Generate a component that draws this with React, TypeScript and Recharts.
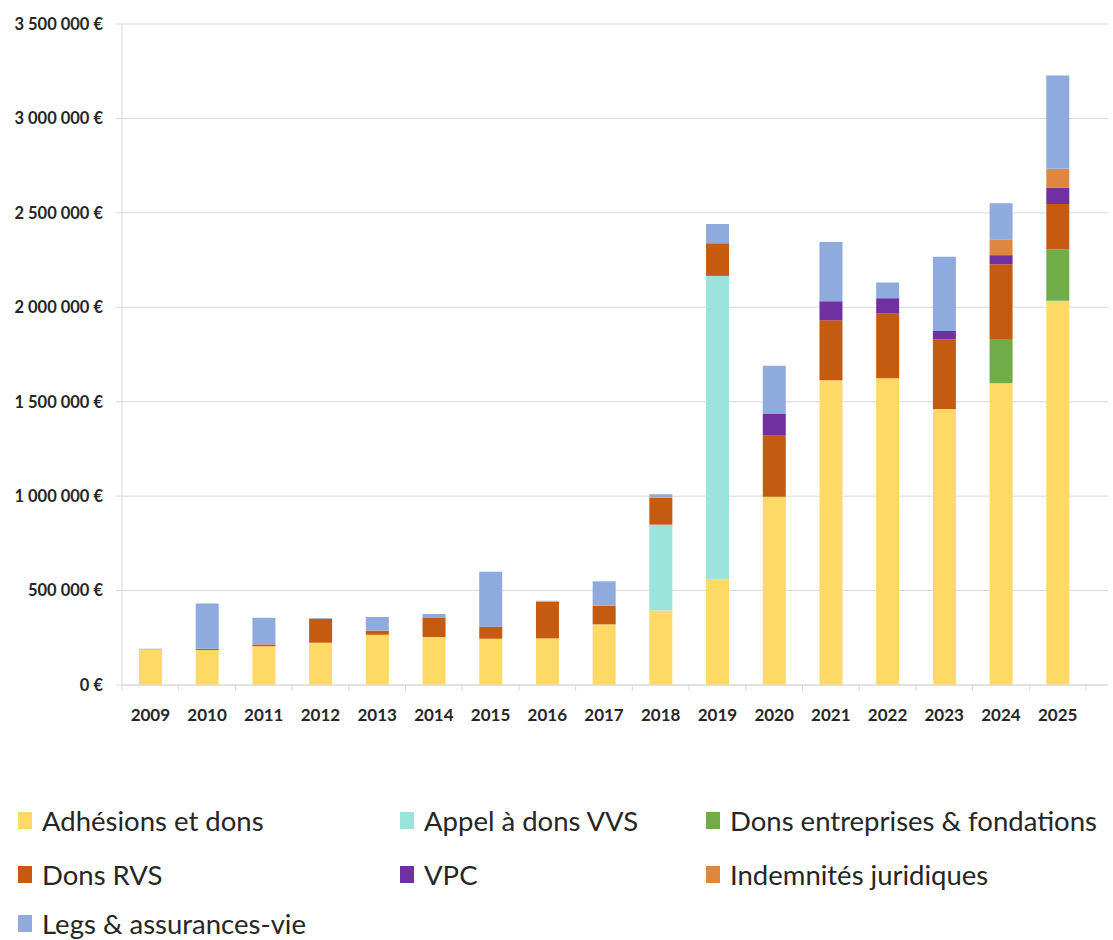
import React from 'react';
import { BarChart, Bar, XAxis, YAxis, CartesianGrid, Legend } from 'recharts';

const years = ['2009', '2010', '2011', '2012', '2013', '2014', '2015', '2016', '2017', '2018', '2019', '2020', '2021', '2022', '2023', '2024', '2025'];

// values in euros
const adhesionsDons = [188000, 185000, 205000, 224000, 266000, 254000, 245000, 247000, 321000, 394000, 560000, 997000, 1614000, 1624000, 1462000, 1598000, 2034000];
const appelDonsVVS = [0, 0, 0, 0, 0, 0, 0, 0, 0, 455000, 1606000, 0, 0, 0, 0, 0, 0];
const donsEntreprises = [0, 0, 0, 0, 0, 0, 0, 0, 0, 0, 0, 0, 0, 0, 0, 234000, 273000];
const donsRVS = [0, 7000, 10000, 127000, 22000, 104000, 64000, 194000, 99000, 143000, 173000, 323000, 317000, 344000, 369000, 396000, 240000];
const vpc = [0, 0, 0, 0, 0, 0, 0, 0, 0, 0, 0, 115000, 101000, 80000, 44000, 48000, 85000];
const indemnites = [0, 0, 0, 0, 0, 0, 0, 0, 0, 0, 0, 0, 0, 0, 0, 84000, 101000];
const legsAssurances = [4000, 240000, 141000, 3000, 72000, 18000, 291000, 5000, 129000, 18000, 102000, 256000, 314000, 83000, 393000, 191000, 494000];

const yTicks = [0, 500000, 1000000, 1500000, 2000000, 2500000, 3000000, 3500000];

const series = [
  { key: 'adhesions', name: 'Adhésions et dons', color: '#FFD966', values: adhesionsDons },
  { key: 'appelVVS', name: 'Appel à dons VVS', color: '#9BE3DB', values: appelDonsVVS },
  { key: 'entreprises', name: 'Dons entreprises & fondations', color: '#70AD47', values: donsEntreprises },
  { key: 'donsRVS', name: 'Dons RVS', color: '#C55A11', values: donsRVS },
  { key: 'vpc', name: 'VPC', color: '#7030A0', values: vpc },
  { key: 'indemnites', name: 'Indemnités juridiques', color: '#DF8640', values: indemnites },
  { key: 'legs', name: 'Legs & assurances-vie', color: '#8FAADC', values: legsAssurances },
];

const data = years.map((year, i) => {
  const row: any = { year };
  series.forEach(s => { row[s.key] = s.values[i]; });
  return row;
});

const formatEuro = (v: number) => String(v).replace(/\B(?=(\d{3})+(?!\d))/g, ' ') + ' €';

const FONT = 'Lato, "Open Sans", sans-serif';
const GRID = '#d9d9d9';
const TEXT = '#262626';

// category step on the x axis: plot from 122 to 1108, 22px padding on the right
const STEP = (1108 - 22 - 122) / years.length;

const YearTick = (props: any) => {
  const { x, y, payload, index } = props;
  const half = STEP / 2;
  return (
    <g>
      <line x1={x - half} x2={x - half} y1={y} y2={y + 6} stroke={GRID} />
      {index === years.length - 1 && <line x1={x + half} x2={x + half} y1={y} y2={y + 6} stroke={GRID} />}
      <text x={x} y={y + 36} textAnchor="middle" fill={TEXT} fontSize={17} fontWeight={700} fontFamily={FONT}>
        {payload.value}
      </text>
    </g>
  );
};

const legendCols = [18, 400, 706];
const legendRows = [50, 104, 153];

const renderLegend = () => (
  <div style={{ position: 'relative', width: 1113, height: 170, fontFamily: FONT }}>
    {series.map((s, i) => (
      <div
        key={s.key}
        style={{
          position: 'absolute',
          left: legendCols[i % 3],
          top: legendRows[Math.floor(i / 3)] - 17,
          height: 34,
          display: 'flex',
          alignItems: 'center',
          whiteSpace: 'nowrap',
        }}
      >
        <span style={{ display: 'inline-block', width: 14, height: 17, background: s.color, marginRight: 10 }} />
        <span style={{ fontSize: 27.5, color: TEXT }}>{s.name}</span>
      </div>
    ))}
  </div>
);

export default function App() {
  return (
    <div style={{ position: 'absolute', left: 0, top: 0, width: 1113, height: 940, background: '#fff' }}>
      <BarChart width={1113} height={940} data={data} margin={{ top: 24, right: 5, bottom: 0, left: 0 }} barSize={23}>
        <CartesianGrid vertical={false} stroke={GRID} />
        <XAxis
          dataKey="year"
          padding={{ left: 0, right: 22 }}
          height={85}
          axisLine={{ stroke: GRID }}
          tickLine={false}
          tickSize={0}
          tickMargin={0}
          interval={0}
          tick={<YearTick />}
        />
        <YAxis
          width={122}
          domain={[0, 3500000]}
          ticks={yTicks}
          interval={0}
          tickFormatter={formatEuro}
          axisLine={{ stroke: GRID }}
          tickLine={{ stroke: GRID }}
          tickSize={6}
          tickMargin={13}
          tick={{ fill: TEXT, fontSize: 16.5, fontWeight: 700, fontFamily: FONT }}
        />
        <Legend verticalAlign="bottom" content={renderLegend} wrapperStyle={{ left: 0, width: 1113, height: 170 }} />
        {series.map(s => (
          <Bar key={s.key} dataKey={s.key} name={s.name} stackId="total" fill={s.color} isAnimationActive={false} />
        ))}
      </BarChart>
    </div>
  );
}
